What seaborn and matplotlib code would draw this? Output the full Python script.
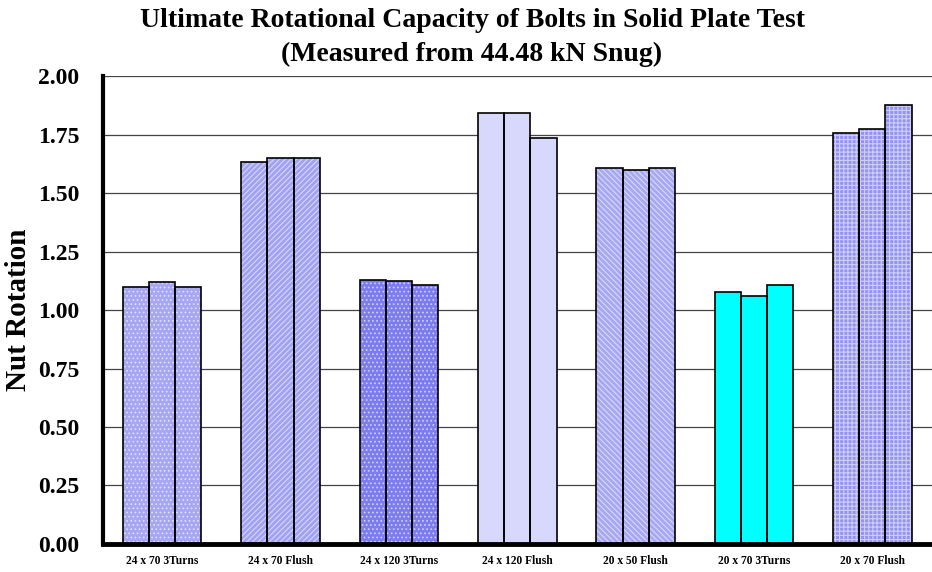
import pandas as pd
import matplotlib
matplotlib.use('Agg')
import matplotlib.pyplot as plt
import seaborn as sns
from matplotlib.patches import Rectangle

# Bolt configurations and the three replicate tests for each
configs = ['24 x 70 3Turns', '24 x 70 Flush', '24 x 120 3Turns', '24 x 120 Flush',
           '20 x 50 Flush', '20 x 70 3Turns', '20 x 70 Flush']
test1 = [1.100, 1.632, 1.130, 1.844, 1.607, 1.075, 1.758]
test2 = [1.118, 1.649, 1.125, 1.844, 1.600, 1.060, 1.773]
test3 = [1.100, 1.649, 1.105, 1.737, 1.607, 1.105, 1.877]
yticks = [0.00, 0.25, 0.50, 0.75, 1.00, 1.25, 1.50, 1.75, 2.00]

# one fill + pattern per configuration
face_colors = ['#a6a6f2', '#a2a2f2', '#7c7cee', '#d8d8fc', '#a8a8f2', '#00ffff', '#9494f0']
hatches = ['....', '//////', '....', '', '\\\\\\\\\\\\', '', '++++']

df = pd.DataFrame({
    'Config': configs * 3,
    'Test': ['T1'] * 7 + ['T2'] * 7 + ['T3'] * 7,
    'Rotation': test1 + test2 + test3,
})

sns.set_style('white', {'text.color': 'black', 'axes.labelcolor': 'black',
                        'xtick.color': 'black', 'ytick.color': 'black',
                        'axes.edgecolor': 'black'})
plt.rcParams['font.family'] = ['Liberation Serif', 'DejaVu Serif']
plt.rcParams['font.weight'] = 'bold'
plt.rcParams['hatch.linewidth'] = 0.8

fig = plt.figure(figsize=(9.32, 5.72), dpi=100)
ax = fig.add_axes([0.1105, 0.049, 0.889, 0.818])

sns.barplot(data=df, x='Config', y='Rotation', hue='Test', order=configs,
            width=0.664, gap=0, legend=False, ax=ax)

# recolour per configuration, white pattern over the fill, then a black outline
for cont in ax.containers:
    for i, bar in enumerate(cont):
        bar.set_facecolor(face_colors[i])
        bar.set_edgecolor((1, 1, 1, 0.55))
        bar.set_linewidth(0)
        bar.set_hatch(hatches[i])
        ax.add_patch(Rectangle(bar.get_xy(), bar.get_width(), bar.get_height(),
                               fill=False, edgecolor='black', linewidth=1.2, zorder=3))

ax.set_xlim(-0.5, len(configs) - 0.5)
ax.set_ylim(0, 2.0)
ax.set_yticks(yticks)
ax.set_yticklabels([f'{v:.2f}' for v in yticks], fontsize=17, fontweight='bold')
ax.yaxis.grid(True, color='#444444', linewidth=0.9)
ax.set_axisbelow(True)

# category ticks between groups, labels at the group centres
ax.set_xticks([i + 0.5 for i in range(len(configs) - 1)])
ax.set_xticklabels([])
ax.set_xticks(range(len(configs)), minor=True)
ax.set_xticklabels(configs, minor=True, fontsize=8.3, fontweight='bold')
ax.tick_params(axis='x', which='minor', length=0, pad=8)
ax.tick_params(axis='x', which='major', direction='inout', length=10, width=3, color='black')
ax.tick_params(axis='y', direction='out', length=9, width=3, pad=8, color='black')

for side in ['top', 'right']:
    ax.spines[side].set_visible(False)
ax.spines['left'].set_linewidth(3)
ax.spines['bottom'].set_linewidth(3.5)

ax.set_xlabel('')
ax.set_ylabel('Nut Rotation', fontsize=21, fontweight='bold', labelpad=4)

fig.text(472 / 932, 1 - 27 / 572, 'Ultimate Rotational Capacity of Bolts in Solid Plate Test',
         ha='center', va='baseline', fontsize=20, fontweight='bold', color='black')
fig.text(472 / 932, 1 - 61 / 572, '(Measured from 44.48 kN Snug)',
         ha='center', va='baseline', fontsize=20, fontweight='bold', color='black')

fig.savefig('out.png', dpi=100)
